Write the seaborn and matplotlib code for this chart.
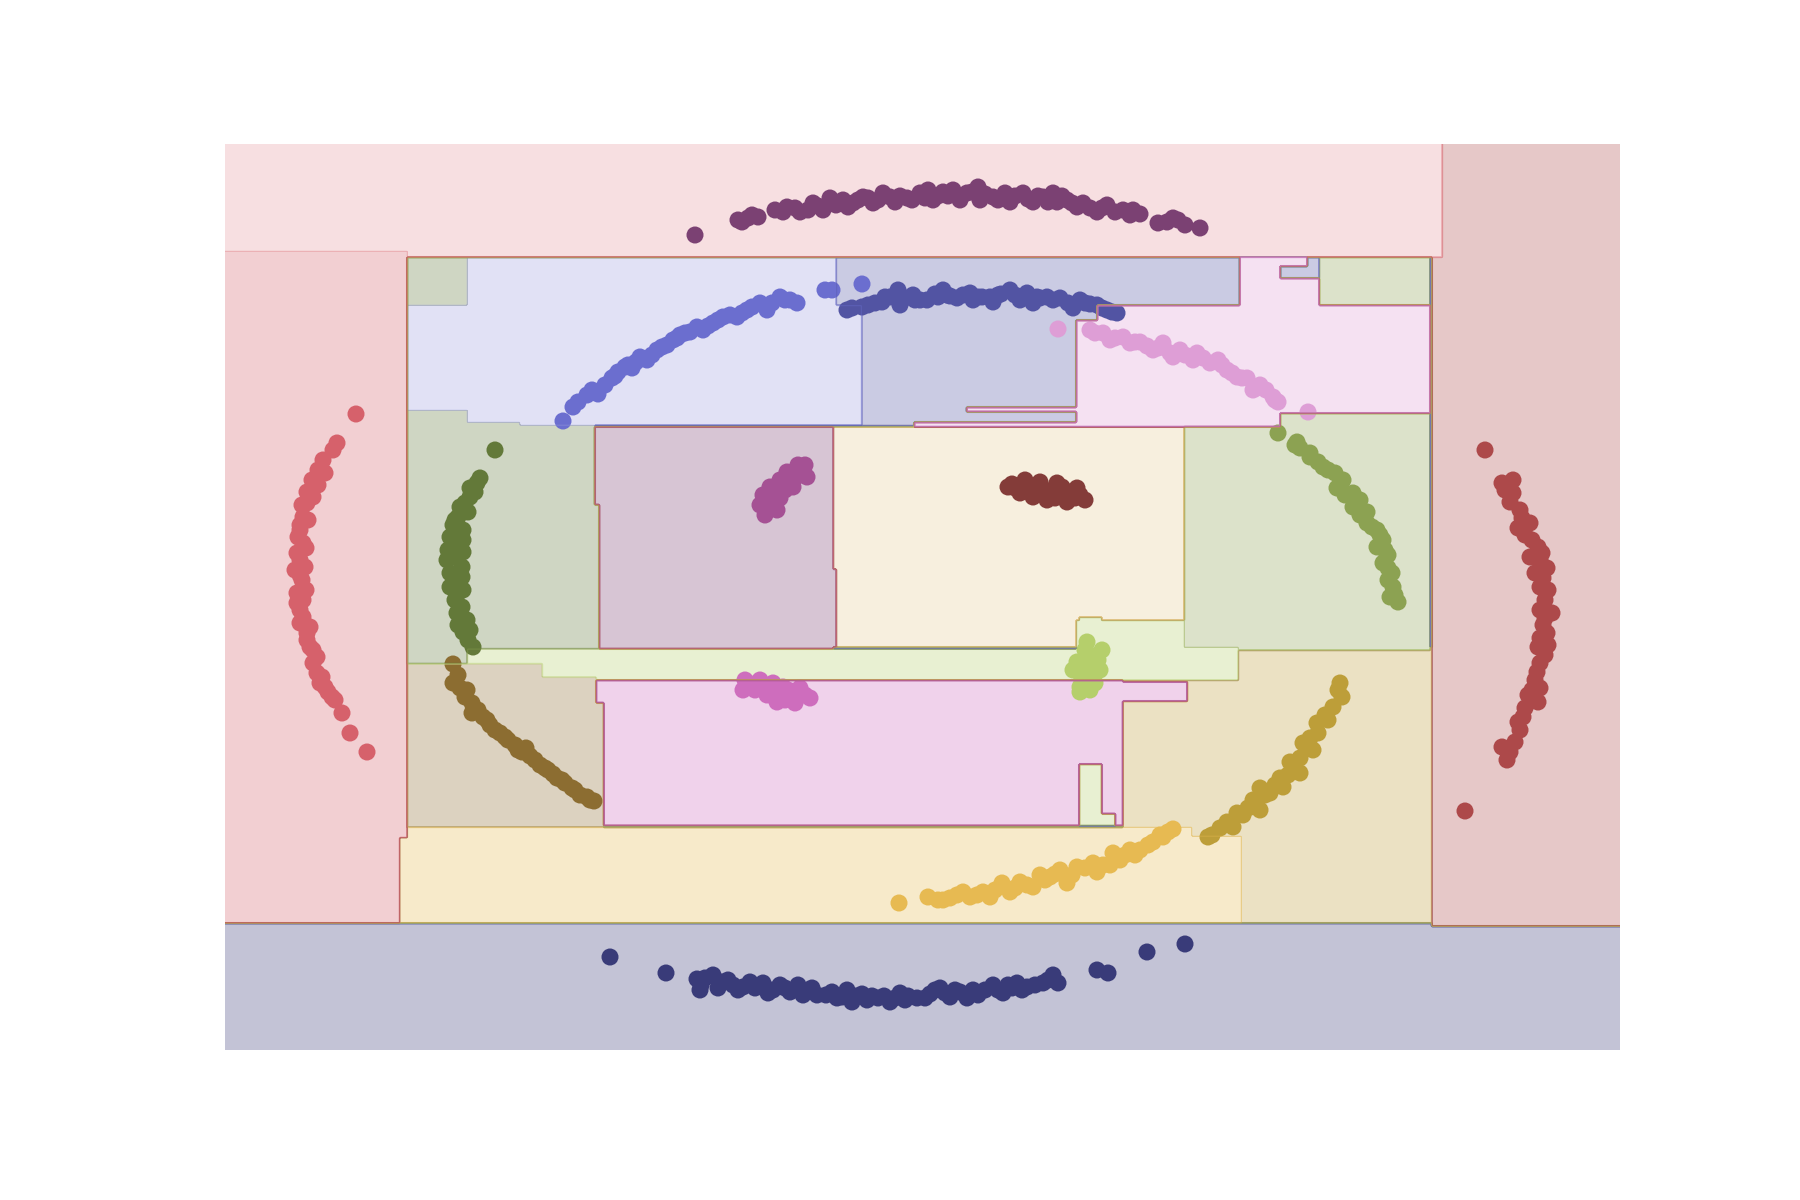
import numpy as np
import pandas as pd
import matplotlib
matplotlib.use('Agg')
import matplotlib.pyplot as plt
import seaborn as sns

# Point clusters, in picture units (x to the right, y downwards)
c00 = [(610,957),(666,973),(697,979),(700,990),(701,985),(705,978),(713,975),(718,988),(722,982),
       (728,980),(733,985),(738,990),(743,987),(750,982),(755,988),(763,983),(768,993),(773,990),(780,985),
       (785,988),(790,992),(798,985),(803,995),(808,990),(812,988),(817,995),(826,995),(832,992),(837,998),
       (842,997),(847,990),(852,1002),(856,996),(862,994),(867,1000),(872,996),(878,998),(884,996),(890,1002),
       (895,998),(900,993),(905,1000),(908,996),(917,998),(925,998),(930,994),(935,990),(940,988),(945,993),
       (950,997),(955,990),(960,992),(967,998),(973,990),(978,995),(985,990),(993,985),(998,990),(1003,993),
       (1008,985),(1012,988),(1017,983),(1022,990),(1027,987),(1035,985),(1043,983),(1048,980),(1053,975),
       (1058,983),(1097,970),(1108,973),(1147,952),(1185,944)]
c01 = [(847,310),(852,308),(862,307),(868,305),(875,303),(882,302),(885,297),(890,297),(898,290),(900,305),
       (905,298),(913,295),(915,300),(920,300),(927,300),(935,294),(938,297),(943,290),(947,295),(950,296),
       (957,298),(963,295),(970,293),(973,300),(978,297),(982,297),(990,297),(993,302),(998,295),(1001,294),
       (1010,290),(1015,295),(1020,300),(1027,293),(1033,303),(1037,297),(1040,298),(1047,297),(1053,300),
       (1060,298),(1068,303),(1073,308),(1080,300),(1085,303),(1090,304),(1097,305),(1102,308),(1107,310),
       (1112,312),(1117,313)]
c02 = [(563,421),(573,407),(578,402),(587,395),(592,390),(598,394),(605,385),(612,378),(615,376),(618,372),
       (625,367),(628,365),(632,368),(636,362),(640,357),(647,360),(652,355),(657,350),(662,347),(667,345),
       (673,340),(677,338),(680,335),(685,333),(690,332),(697,327),(703,330),(708,326),(713,323),(718,320),
       (723,317),(730,315),(737,317),(742,313),(747,310),(752,307),(760,303),(767,310),(772,303),(780,297),
       (785,300),(790,300),(797,303),(825,290),(832,290),(862,284)]
c03 = [(495,450),(480,478),(477,483),(470,488),(475,492),(470,497),(465,503),(460,507),(468,512),(458,517),
       (455,520),(453,525),(463,530),(450,537),(463,540),(455,545),(448,550),(463,552),(455,557),(447,560),
       (462,567),(450,573),(462,577),(455,580),(450,587),(463,590),(458,593),(455,600),(462,607),(457,613),
       (467,620),(462,620),(458,625),(463,632),(470,630),(468,640),(473,647)]
c04 = [(1278,433),(1297,442),(1295,445),(1300,448),(1310,453),(1310,457),(1318,462),(1323,467),(1328,470),
       (1335,473),(1343,480),(1337,488),(1353,493),(1345,495),(1360,500),(1353,507),(1367,512),(1360,515),
       (1367,523),(1372,527),(1377,530),(1380,535),(1383,540),(1377,547),(1385,550),(1388,555),(1383,563),
       (1388,568),(1392,573),(1388,580),(1393,587),(1395,595),(1390,597),(1398,602)]
c05 = [(1087,642),(1102,650),(1085,650),(1090,655),(1077,662),(1093,660),(1098,660),(1082,665),(1095,665),
       (1100,670),(1090,670),(1073,670),(1080,673),(1085,675),(1088,680),(1082,680),(1095,683),(1080,687),
       (1090,690),(1080,692)]
c06 = [(453,664),(458,675),(453,683),(460,688),(467,690),(465,697),(472,703),(478,710),(472,713),(483,717),
       (487,720),(490,725),(495,730),(500,733),(505,737),(508,740),(515,745),(526,748),(518,750),(522,752),
       (530,756),(535,760),(540,765),(545,768),(548,770),(553,774),(557,778),(562,780),(565,783),(572,788),
       (575,790),(580,795),(587,797),(590,800),(594,801)]
c07 = [(1340,683),(1338,690),(1342,697),(1333,707),(1325,715),(1328,720),(1317,723),(1318,733),(1310,738),
       (1303,743),(1307,748),(1313,750),(1300,758),(1290,762),(1295,768),(1300,773),(1288,775),(1280,778),
       (1275,785),(1283,787),(1260,788),(1270,793),(1265,795),(1253,800),(1255,805),(1248,808),(1260,810),
       (1237,813),(1243,815),(1227,822),(1233,827),(1220,828),(1212,835),(1208,837)]
c08 = [(899,903),(928,897),(938,900),(943,900),(950,898),(957,895),(963,892),(970,897),(977,895),(983,892),
       (990,897),(995,890),(1002,883),(1010,892),(1015,888),(1020,882),(1027,885),(1033,887),(1040,875),
       (1045,880),(1050,877),(1055,874),(1060,870),(1067,883),(1072,875),(1077,867),(1085,868),(1093,863),
       (1097,872),(1103,865),(1110,865),(1113,853),(1120,860),(1125,855),(1130,850),(1135,855),(1140,850),
       (1148,845),(1153,842),(1160,835),(1163,837),(1168,832),(1173,829)]
c09 = [(1008,487),(1012,484),(1015,488),(1025,480),(1020,493),(1030,488),(1035,486),(1040,482),(1033,497),
       (1045,490),(1052,492),(1057,483),(1047,500),(1055,498),(1060,493),(1062,487),(1070,492),(1077,488),
       (1067,502),(1075,498),(1080,495),(1085,500)]
c10 = [(1485,450),(1502,483),(1505,490),(1513,480),(1513,493),(1510,502),(1520,510),(1522,518),(1518,528),
       (1530,523),(1525,535),(1532,540),(1538,547),(1530,557),(1542,553),(1540,560),(1535,573),(1547,568),
       (1543,578),(1540,587),(1548,590),(1545,600),(1540,610),(1552,613),(1545,618),(1543,625),(1547,633),
       (1540,638),(1538,647),(1548,645),(1545,655),(1540,663),(1537,672),(1535,680),(1540,688),(1532,690),
       (1528,695),(1538,702),(1525,708),(1523,717),(1518,722),(1520,730),(1515,742),(1502,747),(1510,752),
       (1507,760),(1465,811)]
c11 = [(356,414),(337,443),(333,450),(323,460),(318,470),(325,473),(312,480),(318,485),(307,492),(313,497),
       (307,503),(302,505),(303,517),(308,520),(300,525),(300,530),(298,537),(303,543),(306,548),(297,553),
       (300,560),(305,567),(295,570),(300,575),(302,580),(306,590),(297,593),(303,600),(297,603),(300,610),
       (303,617),(300,623),(310,627),(307,633),(307,640),(310,647),(313,650),(317,657),(313,663),(317,673),
       (322,677),(320,683),(325,687),(328,692),(332,697),(335,700),(342,713),(350,733),(367,752)]
c12 = [(695,235),(738,220),(742,222),(748,218),(752,215),(758,217),(775,210),(783,212),(787,207),(795,208),
       (800,212),(808,210),(813,203),(818,206),(823,210),(830,198),(836,205),(843,200),(848,207),(853,203),
       (858,200),(863,197),(868,198),(873,203),(878,200),(883,193),(890,197),(895,202),(900,196),(907,198),
       (912,200),(920,193),(925,198),(928,190),(933,200),(938,196),(943,192),(948,196),(953,190),(960,200),
       (967,193),(972,192),(978,187),(980,200),(985,194),(993,197),(998,200),(1005,193),(1010,202),(1015,196),
       (1023,193),(1028,199),(1033,202),(1038,196),(1043,197),(1048,202),(1053,193),(1057,202),(1062,196),
       (1067,200),(1072,203),(1077,207),(1083,203),(1090,208),(1097,212),(1102,208),(1107,205),(1115,212),
       (1123,210),(1130,215),(1133,210),(1140,214),(1158,223),(1167,222),(1173,218),(1178,220),(1185,225),
       (1200,228)]
c13 = [(805,465),(798,465),(800,470),(800,473),(787,472),(807,477),(795,478),(790,480),(780,480),(783,485),
       (793,487),(770,487),(785,490),(763,495),(775,495),(780,498),(772,500),(760,505),(770,505),(768,510),
       (777,510),(765,515)]
c14 = [(745,680),(760,680),(773,683),(757,683),(750,685),(783,687),(743,690),(755,690),(765,688),(770,690),
       (788,690),(800,688),(780,693),(767,695),(790,695),(798,695),(805,695),(810,698),(785,700),(777,702),
       (795,703)]
c15 = [(1058,329),(1090,330),(1095,333),(1103,333),(1110,340),(1115,338),(1123,337),(1130,343),(1135,342),
       (1140,342),(1147,346),(1153,350),(1158,348),(1163,347),(1163,343),(1170,353),(1173,357),(1180,350),
       (1185,355),(1193,360),(1197,353),(1203,358),(1210,363),(1218,360),(1222,365),(1227,370),(1232,373),
       (1237,377),(1242,378),(1247,378),(1253,390),(1257,388),(1260,385),(1266,390),(1273,397),(1275,400),
       (1278,402),(1308,412)]

clusters = [c00, c01, c02, c03, c04, c05, c06, c07, c08, c09, c10, c11, c12, c13, c14, c15]
cluster_color = [0, 1, 2, 4, 5, 6, 8, 9, 10, 12, 13, 14, 16, 17, 18, 19]   # tab20b index

# Decision regions: rectangles painted in order (later ones on top)
region_x0 = [225, 1432, 225, 395, 225, 1123, 407, 400, 1192, 407, 836, 862, 862, 407,
             1240, 1098, 1077, 1098, 914, 967, 1308, 1280, 1320, 1185, 1280, 833, 595, 833,
             407, 467, 520, 595, 467, 1077, 1185, 1080, 407, 542, 596, 604, 596, 1123, 1080, 1080]
region_x1 = [1625, 1625, 395, 1443, 407, 1432, 1192, 407, 1242, 862, 1240, 1098, 1077, 467,
             1320, 1431, 1098, 1280, 1077, 1082, 1320, 1320, 1431, 1431, 1431, 1185, 833, 836,
             467, 520, 595, 600, 1123, 1185, 1238, 1102, 542, 596, 604, 1123, 604, 1188, 1102, 1115]
region_y0 = [923, 144, 144, 144, 252, 648, 827, 838, 837, 258, 258, 306, 320, 258,
             258, 306, 320, 414, 422, 408, 258, 267, 258, 427, 414, 427, 427, 570,
             411, 422, 426, 505, 649, 620, 647, 617, 664, 677, 703, 681, 681, 682, 765, 814]
region_y1 = [1055, 927, 252, 258, 923, 923, 923, 923, 923, 426, 306, 320, 425, 306,
             306, 414, 427, 427, 427, 412, 267, 278, 306, 650, 427, 647, 649, 647,
             664, 649, 649, 649, 681, 681, 680, 620, 827, 827, 827, 826, 703, 701, 814, 826]
region_color = [0, 13, 15, 15, 14, 9, 10, 10, 10, 3, 1, 1, 1, 4,
                19, 19, 19, 19, 19, 19, 1, 1, 5, 5, 5, 11, 16, 16,
                4, 4, 4, 4, 6, 6, 6, 6, 8, 8, 8, 18, 18, 18, 6, 6]

palette = list(plt.get_cmap('tab20b').colors)

# label grid
gx = np.linspace(225, 1620, 931)
gy = np.linspace(144, 1050, 605)
X, Y = np.meshgrid(gx, gy)
Z = np.zeros_like(X)
for x0, x1, y0, y1, c in zip(region_x0, region_x1, region_y0, region_y1, region_color):
    Z[(X >= x0) & (X < x1) & (Y >= y0) & (Y < y1)] = c

rows = []
for k, pts in enumerate(clusters):
    for x, y in pts:
        rows.append({'x': x, 'y': y, 'label': k})
df = pd.DataFrame(rows)

fig = plt.figure(figsize=(18, 12), dpi=100)
ax = fig.add_axes([0.125, 0.125, 0.775, 0.755])

levels = np.arange(-0.5, 20.5, 1)
ax.contourf(X, Y, Z, levels=levels, colors=palette, alpha=0.3)
ax.contour(X, Y, Z, levels=levels[1:-1], cmap='tab20b', linewidths=0.9, alpha=0.35)

sns.scatterplot(data=df, x='x', y='y', hue='label',
                palette={k: palette[c] for k, c in enumerate(cluster_color)},
                s=150, linewidth=0, legend=False, ax=ax)

ax.set_xlim(225, 1620)
ax.set_ylim(1050, 144)
ax.axis('off')

fig.savefig('out.png', dpi=100)
